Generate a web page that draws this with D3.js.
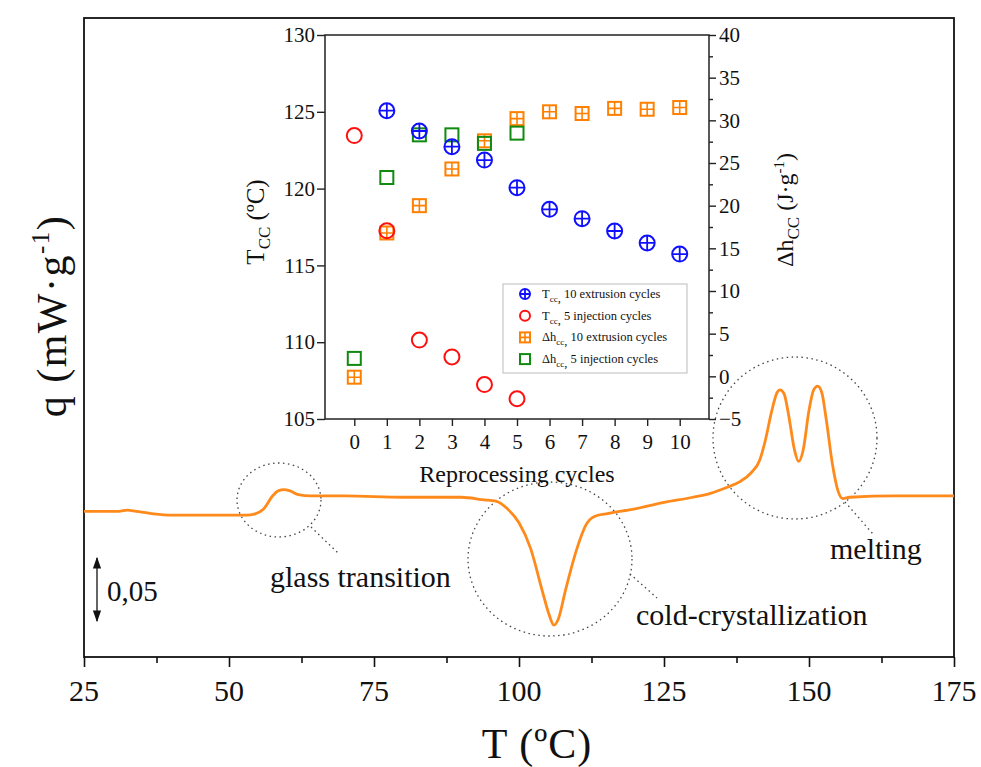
<!DOCTYPE html>
<html>
<head>
<meta charset="utf-8">
<script src="https://cdn.jsdelivr.net/npm/d3@7"></script>
<style>
  body { margin: 0; background: #fff; }
  text { font-family: "Liberation Serif", "DejaVu Serif", serif; fill: #111; }
</style>
</head>
<body>
<div id="chart"></div>
<script>
// DSC trace (T in ºC, q in mW/g, arbitrary offset)
const dscTemp = [25, 28, 31, 32.5, 34, 37, 40, 45, 50, 53, 54.5, 56, 57.5, 58.5, 59.5, 60.5, 62, 64, 70, 80, 90, 94, 96, 98,
  100, 102, 104, 105.2, 106, 106.8, 108, 110, 111.5, 113, 115, 120, 125, 130, 133, 136, 138, 140, 141.5, 142.5, 143.5,
  144.5, 145, 145.7, 146.5, 147.5, 148.2, 149, 150, 150.8, 151.5, 152.2, 153, 154, 155, 155.8, 157, 165, 175];
const dscHeat = [-0.286, -0.286, -0.286, -0.285, -0.286, -0.288, -0.289, -0.289, -0.289, -0.289, -0.288, -0.284, -0.274,
  -0.270, -0.269, -0.270, -0.273, -0.274, -0.274, -0.275, -0.275, -0.277, -0.278, -0.284,
  -0.295, -0.315, -0.348, -0.367, -0.375, -0.370, -0.348, -0.315, -0.297, -0.290, -0.288, -0.284, -0.279, -0.275,
  -0.272, -0.267, -0.263, -0.256, -0.246, -0.230, -0.209,
  -0.193, -0.191, -0.194, -0.211, -0.238, -0.247, -0.238, -0.207, -0.191, -0.188, -0.193, -0.215, -0.248, -0.270,
  -0.276, -0.275, -0.274, -0.274];
const mainTicks = [25, 50, 75, 100, 125, 150, 175];

// inset data
const cycles = [0, 1, 2, 3, 4, 5, 6, 7, 8, 9, 10];
const extrusionCycles = [1, 2, 3, 4, 5, 6, 7, 8, 9, 10];
const tccExtrusion = [125.07, 123.75, 122.73, 121.86, 120.06, 118.65, 118.04, 117.24, 116.46, 115.74];
const injectionCycles = [0, 1, 2, 3, 4, 5];
const tccInjection = [123.45, 117.26, 110.14, 109.04, 107.24, 106.32];
const dhExtrusionCycles = [0, 1, 2, 3, 4, 5, 6, 7, 8, 9, 10];
const dhExtrusion = [-0.1, 16.8, 20.0, 24.3, 27.6, 30.2, 31.0, 30.8, 31.4, 31.3, 31.5];
const dhInjection = [2.1, 23.3, 28.3, 28.3, 27.3, 28.5];
const leftTicks = [105, 110, 115, 120, 125, 130];
const rightTicks = [-5, 0, 5, 10, 15, 20, 25, 30, 35, 40];

const W = 981, H = 767;
const orange = "#ff8a1c";

const svg = d3.select("#chart").append("svg")
  .attr("width", W).attr("height", H);

// ---------- main DSC plot ----------
const frame = {left: 84, right: 954, top: 18, bottom: 657};
const x = d3.scaleLinear().domain([25, 175]).range([frame.left, frame.right]);
const y = d3.scaleLinear().domain([-0.40, 0.10]).range([frame.bottom, frame.top]);

const xAxis = d3.axisBottom(x)
  .tickValues(d3.range(25, 175.1, 12.5))
  .tickSize(0).tickFormat("");
const xg = svg.append("g").attr("transform", "translate(0," + frame.bottom + ")").call(xAxis);
xg.select(".domain").remove();
xg.selectAll(".tick line")
  .attr("y2", function (d) { return mainTicks.indexOf(d) >= 0 ? 10 : 6; })
  .attr("stroke", "#111").attr("stroke-width", 1.6);
svg.selectAll(".mainLabel")
  .data(mainTicks).enter().append("text")
  .attr("x", function (d) { return x(d); })
  .attr("y", 701)
  .attr("text-anchor", "middle")
  .style("font-size", "30px")
  .text(function (d) { return d; });

// frame
svg.append("rect")
  .attr("x", frame.left).attr("y", frame.top)
  .attr("width", frame.right - frame.left).attr("height", frame.bottom - frame.top)
  .attr("fill", "none").attr("stroke", "#111").attr("stroke-width", 1.8);

svg.append("text")
  .attr("x", 537).attr("y", 758)
  .attr("text-anchor", "middle")
  .style("font-size", "42px")
  .style("letter-spacing", "1px")
  .text("T (ºC)");

let yTitle = svg.append("text")
  .attr("transform", "translate(66,316) rotate(-90)")
  .attr("text-anchor", "middle")
  .style("font-size", "42px")
  .style("letter-spacing", "1.5px");
yTitle.append("tspan").text("q (mW·g");
yTitle.append("tspan").attr("dy", -17).style("font-size", "25px").text("-1");
yTitle.append("tspan").attr("dy", 17).text(")");

// dotted circles and leaders
const dotted = {stroke: "#444", "stroke-width": 1.3, "stroke-dasharray": "1.5,3.5", fill: "none"};
function dot(sel) {
  for (let k in dotted) sel.attr(k, dotted[k]);
  return sel;
}
dot(svg.append("ellipse").attr("cx", 279).attr("cy", 500).attr("rx", 42).attr("ry", 37));
dot(svg.append("ellipse").attr("cx", 550).attr("cy", 559).attr("rx", 82).attr("ry", 77));
dot(svg.append("ellipse").attr("cx", 795).attr("cy", 438).attr("rx", 82).attr("ry", 81));
dot(svg.append("line").attr("x1", 311).attr("y1", 527).attr("x2", 338).attr("y2", 553));
dot(svg.append("line").attr("x1", 630).attr("y1", 574).attr("x2", 657).attr("y2", 598));
dot(svg.append("line").attr("x1", 845).attr("y1", 502).attr("x2", 873).attr("y2", 534));

// the DSC curve
const curve = d3.line()
  .x(function (d, i) { return x(dscTemp[i]); })
  .y(function (d) { return y(d); })
  .curve(d3.curveMonotoneX);
svg.append("path")
  .attr("d", curve(dscHeat))
  .attr("fill", "none")
  .attr("stroke", orange)
  .attr("stroke-width", 2.8);

// annotations
svg.append("text").attr("x", 270).attr("y", 587).style("font-size", "30px").text("glass transition");
svg.append("text").attr("x", 636).attr("y", 625).style("font-size", "30px").text("cold-crystallization");
svg.append("text").attr("x", 830).attr("y", 559).style("font-size", "30px").text("melting");

// scale bar
const defs = svg.append("defs");
defs.append("marker").attr("id", "arr")
  .attr("viewBox", "0 0 10 10").attr("refX", 9).attr("refY", 5)
  .attr("markerWidth", 9).attr("markerHeight", 9)
  .attr("orient", "auto-start-reverse")
  .append("path").attr("d", "M0,1.5 L10,5 L0,8.5 Z").attr("fill", "#111");
svg.append("line")
  .attr("x1", 97).attr("y1", 558).attr("x2", 97).attr("y2", 621)
  .attr("stroke", "#111").attr("stroke-width", 1.3)
  .attr("marker-start", "url(#arr)").attr("marker-end", "url(#arr)");
svg.append("text").attr("x", 107).attr("y", 601).style("font-size", "29px").text("0,05");

// ---------- inset ----------
const inset = {left: 325, right: 709, top: 35, bottom: 419};
const xi = d3.scaleLinear().domain([-0.9, 10.9]).range([inset.left, inset.right]);
const yl = d3.scaleLinear().domain([105, 130]).range([inset.bottom, inset.top]);
const yr = d3.scaleLinear().domain([-5, 40]).range([inset.bottom, inset.top]);

const gi = svg.append("g");
gi.append("rect")
  .attr("x", inset.left).attr("y", inset.top)
  .attr("width", inset.right - inset.left).attr("height", inset.bottom - inset.top)
  .attr("fill", "#fff").attr("stroke", "#222").attr("stroke-width", 1.5);

let ax = gi.append("g").attr("transform", "translate(0," + inset.bottom + ")")
  .call(d3.axisBottom(xi).tickValues(cycles).tickSize(7).tickPadding(8));
let ayl = gi.append("g").attr("transform", "translate(" + inset.left + ",0)")
  .call(d3.axisLeft(yl).tickValues(leftTicks).tickSize(8).tickPadding(2));
let ayr = gi.append("g").attr("transform", "translate(" + inset.right + ",0)")
  .call(d3.axisRight(yr).tickValues(rightTicks).tickSize(7).tickPadding(3));
let ayrMinor = gi.append("g").attr("transform", "translate(" + inset.right + ",0)")
  .call(d3.axisRight(yr).tickValues(d3.range(-2.5, 40, 5)).tickSize(4).tickFormat(""));
[ax, ayl, ayr, ayrMinor].forEach(function (a) {
  a.select(".domain").remove();
  a.selectAll(".tick line").attr("stroke", "#222").attr("stroke-width", 1.4);
  a.selectAll("text").style("font-family", "Liberation Serif, serif").style("font-size", "21px").attr("fill", "#111");
});

gi.append("text").attr("x", 517).attr("y", 482).attr("text-anchor", "middle")
  .style("font-size", "24px").text("Reprocessing cycles");

let lt = gi.append("text").attr("transform", "translate(264,222) rotate(-90)")
  .attr("text-anchor", "middle").style("font-size", "25px");
lt.append("tspan").text("T");
lt.append("tspan").attr("dy", 6).style("font-size", "17px").text("CC");
lt.append("tspan").attr("dy", -6).text(" (ºC)");

let rt = gi.append("text").attr("transform", "translate(793,210) rotate(-90)")
  .attr("text-anchor", "middle").style("font-size", "24px");
rt.append("tspan").text("Δh");
rt.append("tspan").attr("dy", 6).style("font-size", "17px").text("CC");
rt.append("tspan").attr("dy", -6).text(" (J·g");
rt.append("tspan").attr("dy", -9).style("font-size", "15px").text("-1");
rt.append("tspan").attr("dy", 9).text(")");

// marker drawers
function circlePlus(g, r, color) {
  g.append("circle").attr("r", r).attr("fill", "none").attr("stroke", color).attr("stroke-width", 2);
  g.append("path").attr("d", "M" + (-r) + ",0H" + r + "M0," + (-r) + "V" + r)
    .attr("stroke", color).attr("stroke-width", 1.8);
}
function openCircle(g, r, color) {
  g.append("circle").attr("r", r).attr("fill", "none").attr("stroke", color).attr("stroke-width", 2);
}
function gridSquare(g, r, color) {
  g.append("rect").attr("x", -r).attr("y", -r).attr("width", 2 * r).attr("height", 2 * r)
    .attr("fill", "none").attr("stroke", color).attr("stroke-width", 2);
  g.append("path").attr("d", "M" + (-r) + ",0H" + r + "M0," + (-r) + "V" + r)
    .attr("stroke", color).attr("stroke-width", 1.6);
}
function openSquare(g, r, color) {
  g.append("rect").attr("x", -r).attr("y", -r).attr("width", 2 * r).attr("height", 2 * r)
    .attr("fill", "none").attr("stroke", color).attr("stroke-width", 2);
}

const series = [
  {xs: dhExtrusionCycles, ys: dhExtrusion, scale: yr, draw: gridSquare, color: "#ff8000", r: 6.5},
  {xs: injectionCycles, ys: dhInjection, scale: yr, draw: openSquare, color: "#108a10", r: 6.5},
  {xs: injectionCycles, ys: tccInjection, scale: yl, draw: openCircle, color: "#ff1010", r: 7.5},
  {xs: extrusionCycles, ys: tccExtrusion, scale: yl, draw: circlePlus, color: "#1010ff", r: 7.5}
];
series.forEach(function (s) {
  gi.selectAll(null).data(s.ys).enter().append("g")
    .attr("transform", function (d, i) { return "translate(" + xi(s.xs[i]) + "," + s.scale(d) + ")"; })
    .each(function () { s.draw(d3.select(this), s.r, s.color); });
});

// legend
const legendItems = [
  {sym: "T", draw: circlePlus, color: "#1010ff", text: "10 extrusion cycles"},
  {sym: "T", draw: openCircle, color: "#ff1010", text: " 5 injection cycles"},
  {sym: "Δh", draw: gridSquare, color: "#ff8000", text: "10 extrusion cycles"},
  {sym: "Δh", draw: openSquare, color: "#108a10", text: " 5  injection cycles"}
];
const lg = gi.append("g");
lg.append("rect").attr("x", 503).attr("y", 284).attr("width", 184).attr("height", 89)
  .attr("fill", "#fff").attr("stroke", "#bbb").attr("stroke-width", 1);
legendItems.forEach(function (d, i) {
  let yy = 294 + i * 21.7;
  let m = lg.append("g").attr("transform", "translate(525," + yy + ")");
  d.draw(m, 5, d.color);
  let t = lg.append("text").attr("x", 542).attr("y", yy + 4).style("font-size", "12.5px");
  t.append("tspan").text(d.sym);
  t.append("tspan").attr("dy", 4).style("font-size", "9px").text("cc");
  t.append("tspan").attr("dy", 0).text(", ");
  t.append("tspan").attr("dy", -4).text(d.text);
});
</script>
</body>
</html>
